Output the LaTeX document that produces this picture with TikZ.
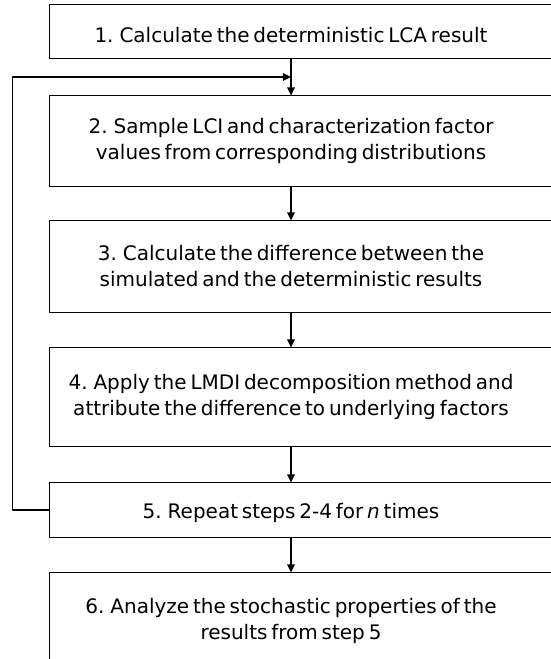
\documentclass[tikz,border=0pt]{standalone}
\usepackage{fontspec}
\setmainfont{DejaVu Sans}[WordSpace=0.6]
\usetikzlibrary{arrows.meta,calc}
\begin{document}
\begin{tikzpicture}[x=1pt, y=-1pt, line width=1.1pt, line join=round,
		font=\fontsize{20}{26}\selectfont, >={Triangle[length=8pt,width=7.5pt]},
		stepnode/.style={minimum width=482pt, inner sep=0pt, align=center,
			execute at begin node={\rule{0pt}{22pt}}}]
			\def\bx{291}
			\useasboundingbox (0,0) rectangle (551,659);
			\clip (0,0) rectangle (551,659);
			\node[stepnode, minimum height=53pt] (s1) at (\bx,31.5) {1. Calculate the deterministic LCA result};
			\node[stepnode, minimum height=90pt] (s2) at (\bx,141) {2. Sample LCI and characterization factor\\values from corresponding distributions};
			\node[stepnode, minimum height=91pt] (s3) at (\bx,266.5) {3. Calculate the difference between the\\simulated and the deterministic results};
			\node[stepnode, minimum height=98pt] (s4) at (\bx,397) {4. Apply the LMDI decomposition method and\\attribute the difference to underlying factors};
			\node[stepnode, minimum height=54pt] (s5) at (\bx,510) {5. Repeat steps 2-4 for \textit{n} times};
			\node[stepnode, minimum height=96pt] (s6) at (\bx,621) {6. Analyze the stochastic properties of the\\results from step 5};
			\foreach \i in {1,...,6}\draw (s\i.north west) rectangle ($(s\i.south east)+(80,0)$);
			\foreach \i/\j in {1/2,2/3,3/4,4/5,5/6}\draw[->] (s\i) -- (s\j);
			\coordinate (j) at ($(s1.south)!0.5!(s2.north)$);
			\draw[->] (s5.west) -- ++(-37,0) |- (j);
		\end{tikzpicture}
\end{document}
